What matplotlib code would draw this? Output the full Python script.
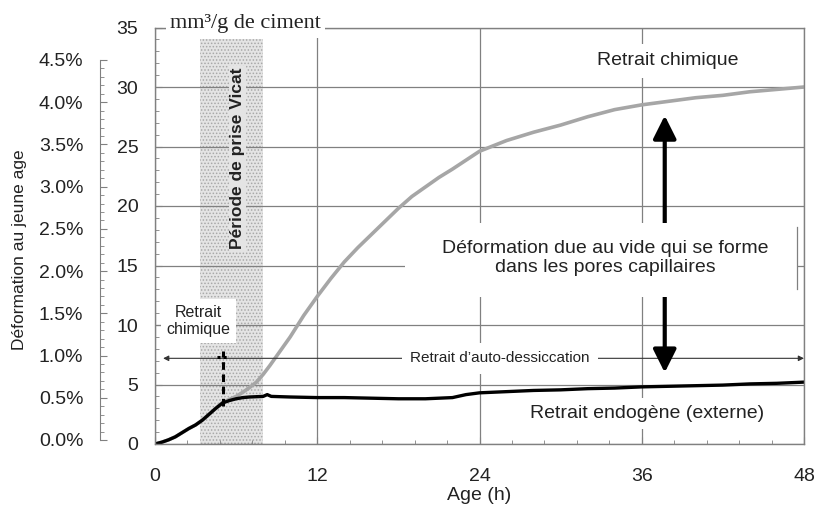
import matplotlib
matplotlib.use("Agg")
import matplotlib.pyplot as plt
from matplotlib.patches import Rectangle
from matplotlib.ticker import MultipleLocator, FuncFormatter
import numpy as np

plt.rcParams['font.family'] = ['Liberation Sans', 'DejaVu Sans']
plt.rcParams['hatch.linewidth'] = 0.7

# data (age in hours, mm3/g de ciment)
age_chem = [0, 0.5, 1, 1.5, 2, 2.5, 3, 3.5, 4, 4.5, 5, 5.5, 6, 6.5, 7, 7.5, 8, 8.5, 9,
            10, 10.5, 11, 12, 13, 14, 15, 16, 17, 18, 19, 20, 21, 22, 24, 26, 28, 30,
            32, 34, 36, 38, 40, 42, 44, 46, 48]
retrait_chimique = [0, 0.15, 0.35, 0.6, 0.95, 1.3, 1.6, 2.0, 2.5, 3.0, 3.5, 3.75, 4.0, 4.35,
                    4.75, 5.2, 5.85, 6.6, 7.4, 9.0, 9.9, 10.8, 12.4, 13.9, 15.3, 16.5, 17.6,
                    18.7, 19.8, 20.8, 21.6, 22.4, 23.1, 24.6, 25.5, 26.2, 26.8, 27.5, 28.1,
                    28.5, 28.8, 29.1, 29.3, 29.6, 29.8, 30.0]

age_endo = [0, 0.5, 1, 1.5, 2, 2.5, 3, 3.5, 4, 4.5, 5, 5.5, 6, 6.5, 7, 8, 8.3, 8.6, 10,
            12, 14, 16, 18, 20, 22, 23, 24, 26, 28, 30, 32, 34, 36, 38, 40, 42, 44, 46, 48]
retrait_endogene = [0, 0.15, 0.35, 0.6, 0.95, 1.3, 1.6, 2.0, 2.5, 3.0, 3.45, 3.65, 3.8, 3.9,
                    3.95, 4.0, 4.15, 4.0, 3.95, 3.9, 3.9, 3.85, 3.8, 3.8, 3.9, 4.15, 4.3, 4.4,
                    4.5, 4.55, 4.65, 4.7, 4.8, 4.85, 4.9, 4.95, 5.05, 5.1, 5.2]

x_ticks = [0, 12, 24, 36, 48]
y_ticks = [0, 5, 10, 15, 20, 25, 30, 35]
pct_ticks = [0.0, 0.5, 1.0, 1.5, 2.0, 2.5, 3.0, 3.5, 4.0, 4.5]

vicat_start, vicat_end = 3.33, 8.0

W, H = 817, 509
fig = plt.figure(figsize=(W / 100, H / 100), dpi=100)
ax = fig.add_axes([155 / W, 1 - 444 / H, (804 - 155) / W, (444 - 27.5) / H])

grid_c = '#808080'
txt_c = '#222222'
shade_c = '#e4e4e4'

ax.set_xlim(0, 48)
ax.set_ylim(0, 35)
ax.set_xticks(x_ticks)
ax.set_yticks(y_ticks)
ax.xaxis.set_minor_locator(MultipleLocator(2.4))
ax.yaxis.set_minor_locator(MultipleLocator(1))
ax.tick_params(which='both', direction='in', colors=grid_c, labelcolor=txt_c, labelsize=14)
ax.tick_params(which='major', length=5)
ax.tick_params(which='minor', length=3)
ax.tick_params(axis='y', pad=12)
ax.tick_params(axis='x', pad=17)
ax.grid(True, which='major', color=grid_c, lw=0.9, zorder=0.5)
ax.set_axisbelow(True)
for sp in ax.spines.values():
    sp.set_color(grid_c)
    sp.set_linewidth(1.0)

# periode de prise Vicat
ax.fill_between([vicat_start, vicat_end], 0, 34.0, facecolor=shade_c, edgecolor='#a8a8a8',
                hatch='.....', linewidth=0, zorder=0.3)
ax.text(6.1, 24.0, 'Période de prise Vicat', rotation=90,
        ha='center', va='center', fontsize=12.5, fontweight='bold', color=txt_c, zorder=6,
        bbox=dict(facecolor=shade_c, edgecolor='none', pad=1))

# curves
ax.plot(age_chem, retrait_chimique, color='#a6a6a6', lw=2.6, zorder=2)
ax.plot(age_endo, retrait_endogene, color='black', lw=2.4, zorder=2.1)

# retrait d'auto-dessiccation arrow
ax.annotate('', xy=(0.6, 7.2), xytext=(48, 7.2),
            arrowprops=dict(arrowstyle='<|-|>', lw=0.8, color='#333333', mutation_scale=8,
                            shrinkA=0, shrinkB=0), zorder=3)
ax.text(25.5, 7.2, 'Retrait d\u2019auto-dessiccation', ha='center', va='center', fontsize=11,
        color=txt_c, zorder=6,
        bbox=dict(facecolor='white', edgecolor='none', pad=6))

# dashed marker at the chemical / endogenous split
ax.plot([5.05, 5.05], [3.2, 7.8], color='black', lw=2.2, ls=(0, (2.5, 1.5)), zorder=3)
ax.plot([4.6, 5.5], [7.3, 7.3], color='black', lw=2.2, ls=(0, (1, 1)), zorder=3)

# double arrow (vide dans les pores)
ax.annotate('', xy=(37.7, 27.6), xytext=(37.7, 6.0),
            arrowprops=dict(arrowstyle='<|-|>,head_length=0.7,head_width=0.35', lw=3,
                            color='black', mutation_scale=20, shrinkA=0, shrinkB=0), zorder=3)
ax.add_patch(Rectangle((18.5, 12.35), 29.0, 6.25, facecolor='white', edgecolor='none', zorder=4))
ax.plot([47.5, 47.5], [13.0, 18.2], color=grid_c, lw=0.9, zorder=4.5)
ax.text(33.3, 15.6, 'Déformation due au vide qui se forme\ndans les pores capillaires',
        ha='center', va='center', fontsize=14, color=txt_c, zorder=6, linespacing=1.15)

# labels of the curves
ax.text(37.9, 32.2, 'Retrait chimique', ha='center', va='center', fontsize=14, color=txt_c,
        zorder=6, bbox=dict(facecolor='white', edgecolor='none', pad=6))
ax.text(36.4, 2.6, 'Retrait endogène (externe)', ha='center', va='center', fontsize=14,
        color=txt_c, zorder=6, bbox=dict(facecolor='white', edgecolor='none', pad=5))
ax.text(3.2, 10.35, 'Retrait\nchimique', ha='center', va='center', fontsize=11.5,
        color=txt_c, zorder=6, linespacing=1.2,
        bbox=dict(facecolor='white', edgecolor='none', pad=4))

# unit label on top of the axis
ax.text(1.1, 35.3, 'mm³/g de ciment', ha='left', va='center', fontsize=16,
        family='Liberation Serif', color=txt_c, zorder=6,
        bbox=dict(facecolor='white', edgecolor='none', pad=3))

ax.set_xlabel('Age (h)', fontsize=14, color=txt_c, labelpad=2)

# secondary percent scale on the far left
ax2 = fig.add_axes([100 / W, 1 - 440 / H, 0.001, (440 - 60) / H])
ax2.set_facecolor('none')
ax2.set_ylim(0, 4.5)
ax2.set_yticks(pct_ticks)
ax2.yaxis.set_minor_locator(MultipleLocator(0.1))
ax2.yaxis.set_major_formatter(FuncFormatter(lambda v, p: f'{v:.1f}%'))
ax2.set_xticks([])
for name in ['top', 'right', 'bottom']:
    ax2.spines[name].set_visible(False)
ax2.spines['left'].set_color(grid_c)
ax2.tick_params(which='both', direction='in', colors=grid_c, labelcolor=txt_c, labelsize=14)
ax2.tick_params(which='major', length=5, pad=12)
ax2.tick_params(which='minor', length=3)

fig.text(20 / W, 1 - 250 / H, 'Déformation au jeune age', rotation=90, ha='center',
         va='center', fontsize=12.5, color=txt_c)

fig.savefig('out.png', dpi=100)
